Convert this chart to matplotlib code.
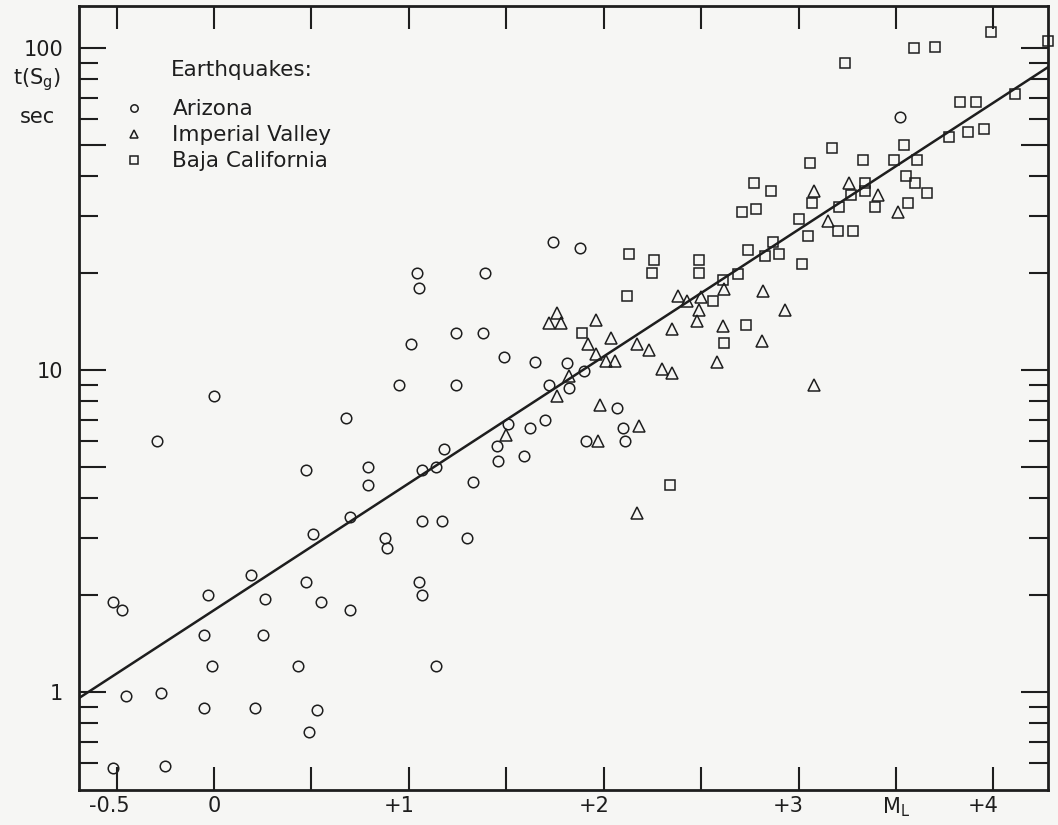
import numpy as np
import matplotlib
matplotlib.use('Agg')
import matplotlib.pyplot as plt
import matplotlib.transforms as mtransforms
from matplotlib.ticker import NullFormatter, NullLocator

# Local magnitude M_L and S_g duration t (sec)
arizona_ml = [-0.29, 0.68, 0.47, 0.79, 0.79, 1.07, 1.14, 1.18, 1.51, 1.45,
              1.46, 1.59, 1.62, 1.70, 1.33, 0.70, 0.51, 1.07, 1.17, 0.88,
              0.89, 1.30, 0.19, 0.47, 1.05, 1.07, -0.52, -0.47, -0.03, 0.26,
              0.55, 0.70, -0.05, 0.25, -0.01, 0.43, 1.14, -0.45, -0.27, -0.05,
              0.21, 0.53, 0.49, -0.52, -0.25, 1.04, 1.05, 1.39, 1.24, 1.38,
              1.01, 1.49, 0.95, 1.24, 0.00, 1.74, 1.88, 1.65, 1.81, 1.90,
              1.72, 1.82, 2.07, 2.10, 1.91, 2.11, 3.52]
arizona_t = [6.0, 7.1, 4.9, 5.0, 4.4, 4.9, 5.0, 5.7, 6.8, 5.8,
             5.2, 5.4, 6.6, 7.0, 4.5, 3.5, 3.1, 3.4, 3.4, 3.0,
             2.8, 3.0, 2.3, 2.2, 2.2, 2.0, 1.9, 1.8, 2.0, 1.95,
             1.9, 1.8, 1.5, 1.5, 1.2, 1.2, 1.2, 0.97, 0.99, 0.89,
             0.89, 0.88, 0.75, 0.58, 0.59, 20, 18, 20, 13, 13,
             12, 11, 9.0, 9.0, 8.3, 25, 24, 10.6, 10.5, 9.9,
             9.0, 8.8, 7.6, 6.6, 6.0, 6.0, 61]

imperial_ml = [1.50, 1.76, 1.72, 1.78, 1.96, 1.92, 2.04, 1.96, 2.01, 2.06,
               2.17, 2.23, 2.30, 2.35, 2.35, 2.38, 2.43, 2.50, 2.62, 2.49,
               2.48, 2.61, 2.82, 2.93, 2.81, 2.58, 3.08, 1.82, 1.76, 1.98,
               2.18, 1.97, 2.17, 3.08, 3.26, 3.15, 3.41, 3.51]
imperial_t = [6.3, 15, 14, 14, 14.3, 12, 12.6, 11.2, 10.7, 10.7,
              12, 11.5, 10.1, 9.8, 13.4, 17, 16.4, 16.8, 17.8, 15.4,
              14.2, 13.7, 17.6, 15.4, 12.3, 10.6, 9.0, 9.6, 8.3, 7.8,
              6.7, 6.0, 3.6, 36, 38, 29, 35, 31]

baja_ml = [1.89, 2.12, 2.13, 2.26, 2.25, 2.49, 2.49, 2.56, 2.61, 2.69,
           2.74, 2.83, 2.90, 2.87, 2.73, 2.62, 2.34, 3.02, 3.05, 3.00,
           3.20, 3.28, 3.21, 3.07, 2.77, 2.86, 2.71, 2.78, 3.06, 3.17,
           3.33, 3.49, 3.54, 3.61, 3.34, 3.27, 3.34, 3.39, 3.55, 3.60,
           3.66, 3.56, 3.24, 3.59, 3.70, 3.99, 4.28, 4.11, 3.83, 3.91,
           3.77, 3.87, 3.95]
baja_t = [13, 17, 23, 22, 20, 22, 20, 16.4, 19, 19.8,
          23.6, 22.6, 23, 25, 13.8, 12.1, 4.4, 21.4, 26, 29.5,
          27, 27, 32, 33, 38, 36, 31, 31.6, 44, 49,
          45, 45, 50, 45, 38, 35, 36, 32, 40, 38,
          35.5, 33, 90, 100, 101, 112, 105, 72, 68, 68,
          53, 55, 56]

# fitted line: log10 t = fit_a + fit_b * M_L
fit_a = 0.254
fit_b = 0.394

x_ticks = [-0.5, 0, 0.5, 1, 1.5, 2, 2.5, 3, 3.5, 4]
x_labels = ['-0.5', '0', '', '+1', '', '+2', '', '+3', 'M$_\\mathregular{L}$', '+4']
y_major = [1, 5, 10, 50, 100]
y_major_labels = ['1', '', '10', '', '100']
y_minor = [0.6, 0.7, 0.8, 0.9, 2, 3, 4, 6, 7, 8, 9, 20, 30, 40, 60, 70, 80, 90]

ink = '#1e1e1e'
bg = '#f6f6f4'

plt.rcParams['font.family'] = 'DejaVu Sans'
fig = plt.figure(figsize=(10.58, 8.25), dpi=100)
fig.patch.set_facecolor(bg)
ax = fig.add_axes([0.075, 0.0424, 0.9155, 0.9503])
ax.set_facecolor(bg)
ax.set_yscale('log')
ax.set_xlim(-0.691, 4.28)
ax.set_ylim(0.496, 135)

# regression line across the whole frame
xs = np.array(ax.get_xlim())
ax.plot(xs, 10 ** (fit_a + fit_b * xs), color=ink, lw=1.8, zorder=2)

mk = dict(linestyle='none', mfc='none', mec=ink, mew=1.1, clip_on=False, zorder=3)
ax.plot(arizona_ml, arizona_t, 'o', ms=7.6, label='Arizona', **mk)
ax.plot(imperial_ml, imperial_t, '^', ms=8.5, label='Imperial Valley', **mk)
ax.plot(baja_ml, baja_t, 's', ms=7.5, label='Baja California', **mk)

for s in ax.spines.values():
    s.set_linewidth(2.0)
    s.set_color(ink)

ax.set_xticks(x_ticks, x_labels)
ax.xaxis.set_minor_locator(NullLocator())
ax.set_yticks(y_major, y_major_labels)
ax.set_yticks(y_minor, minor=True)
ax.yaxis.set_minor_formatter(NullFormatter())

ax.tick_params(which='both', direction='in', top=True, right=True,
               color=ink, width=1.5, labelcolor=ink)
ax.tick_params(axis='x', which='major', length=16.5, labelsize=15, pad=4)
ax.tick_params(axis='y', which='major', length=19.5, labelsize=15, pad=11.5)
ax.tick_params(axis='y', which='minor', length=13.5)

# the digits sit on the ticks, signs hang to the left
for lab in ax.get_xticklabels():
    txt = lab.get_text()
    dx = 0
    if txt.startswith('+'):
        dx = -0.10
    elif txt.startswith('-'):
        dx = -0.07
    if dx:
        lab.set_transform(lab.get_transform() +
                          mtransforms.ScaledTranslation(dx, 0, fig.dpi_scale_trans))

fig.text(0.035, 0.903, 't(S$_\\mathregular{g}$)', fontsize=15, ha='center',
         va='center', color=ink)
fig.text(0.035, 0.858, 'sec', fontsize=15, ha='center', va='center', color=ink)

ax.text(0.094, 0.918, 'Earthquakes:', transform=ax.transAxes, fontsize=15.5,
        va='center', color=ink)
ax.legend(loc='upper left', bbox_to_anchor=(0.045, 0.881), frameon=False,
          fontsize=15.5, markerscale=0.7, handlelength=1.0, handletextpad=1.3,
          labelspacing=0.28, borderpad=0, borderaxespad=0, labelcolor=ink)

fig.savefig('out.png', dpi=100, facecolor=bg)
